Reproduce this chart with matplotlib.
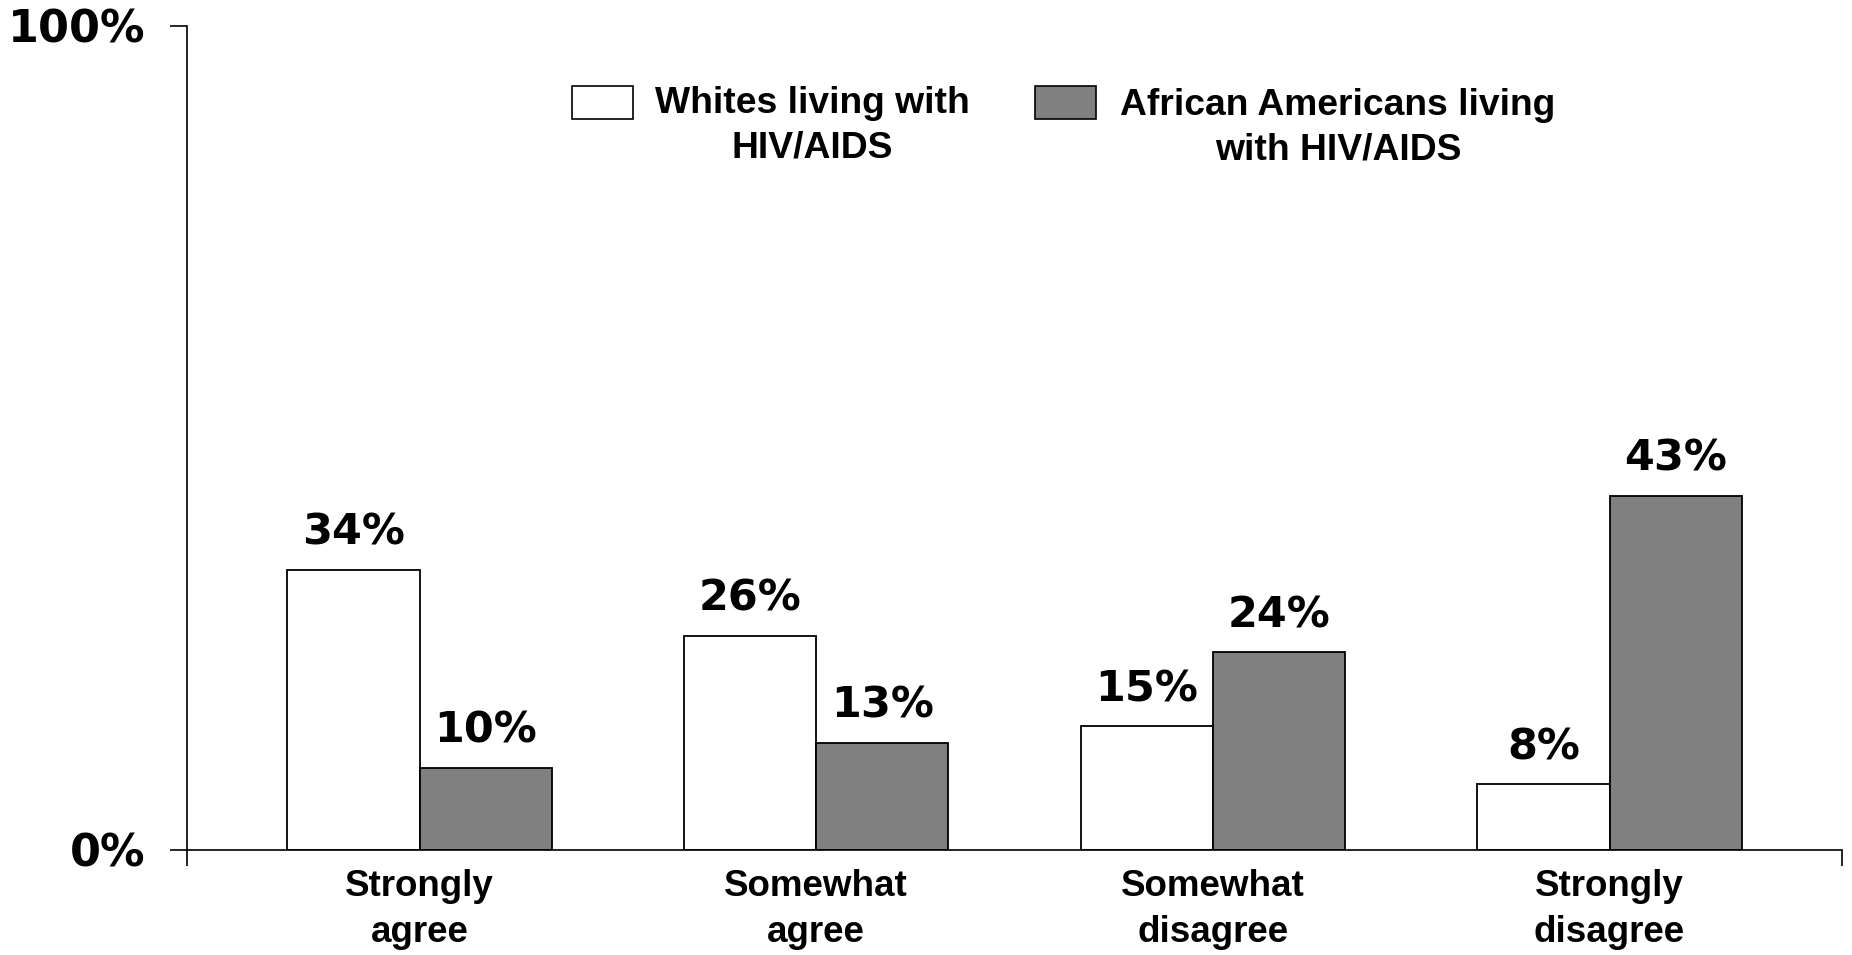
import numpy as np
import matplotlib
matplotlib.use("Agg")
import matplotlib.pyplot as plt
from matplotlib.patches import Rectangle

# ---------------------------------------------------------------------------
# Data
# ---------------------------------------------------------------------------
CATEGORIES = ["Strongly\nagree", "Somewhat\nagree", "Somewhat\ndisagree", "Strongly\ndisagree"]
WHITES = [34, 26, 15, 8]
AFRICAN_AMERICANS = [10, 13, 24, 43]
SERIES_LABELS = ["Whites living with\nHIV/AIDS", "African Americans living\nwith HIV/AIDS"]
Y_TICKS = [0, 100]
Y_TICK_LABELS = ["0%", "100%"]

GRAY = "#808080"
LABEL_FONT = "Liberation Sans"
VALUE_FONT = "DejaVu Sans"

fig = plt.figure(figsize=(18.52, 9.55), dpi=100)
ax = fig.add_axes([0.101, 0.110, 0.8936, 0.8628])

x = np.arange(len(CATEGORIES))
w = 1 / 3
bars_w = ax.bar(x - w / 2, WHITES, w, color="white", edgecolor="black", linewidth=1.3, zorder=2)
bars_a = ax.bar(x + w / 2, AFRICAN_AMERICANS, w, color=GRAY, edgecolor="black", linewidth=1.3, zorder=2)

# value labels above bars
for bars, vals in [(bars_w, WHITES), (bars_a, AFRICAN_AMERICANS)]:
    for b, v in zip(bars, vals):
        ax.annotate(f"{v}%", (b.get_x() + b.get_width() / 2, v),
                    xytext=(0, 18), textcoords="offset points",
                    ha="center", va="baseline", fontsize=31,
                    fontweight="bold", family=VALUE_FONT)

ax.set_xlim(-0.586, 3.586)
ax.set_ylim(0, 100)

# axes styling
for s in ["top", "right"]:
    ax.spines[s].set_visible(False)
for s in ["left", "bottom"]:
    ax.spines[s].set_linewidth(1.2)

ax.set_yticks(Y_TICKS)
ax.set_yticklabels(Y_TICK_LABELS, fontsize=32, fontweight="bold", family=VALUE_FONT)
ax.tick_params(axis="y", direction="out", length=12, width=1.2, pad=18)

ax.set_xticks(x)
ax.set_xticklabels(CATEGORIES, fontsize=26.5, fontweight="bold", family=LABEL_FONT,
                   linespacing=1.38)
ax.tick_params(axis="x", which="major", length=0, pad=14)
ax.set_xticks([-0.586, 3.586], minor=True)
ax.tick_params(axis="x", which="minor", direction="out", length=11.5, width=1.2)
for t in ax.get_xticklabels():
    t.set_multialignment("center")

# legend (drawn by hand to match the original layout)
legend_boxes = [(0.3089, "white"), (0.5589, GRAY)]
legend_text_pos = [(0.4385, 0.8685), (0.7225, 0.8660)]
for (bx, fc), (tx, ty), lab in zip(legend_boxes, legend_text_pos, SERIES_LABELS):
    fig.patches.append(Rectangle((bx, 0.8754), 0.0329, 0.0346, transform=fig.transFigure,
                                 facecolor=fc, edgecolor="black", linewidth=1.2))
    fig.text(tx, ty, lab, ha="center", va="center", multialignment="center",
             fontsize=26.8, fontweight="bold", family=LABEL_FONT, linespacing=1.35)

fig.savefig("out.png", dpi=100)
